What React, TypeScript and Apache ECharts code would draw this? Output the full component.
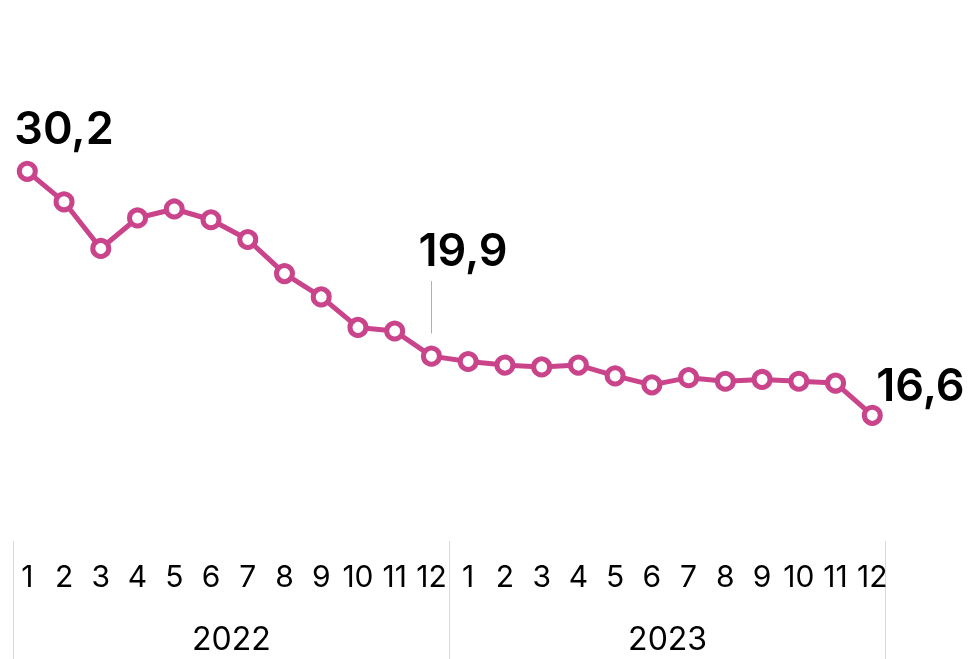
import React, { useEffect, useRef } from "react";
import * as echarts from "echarts";

const months: string[] = ["1","2","3","4","5","6","7","8","9","10","11","12","1","2","3","4","5","6","7","8","9","10","11","12"];
const years: string[] = ["2022", "2023"];
const values: number[] = [
  30.2, 28.5, 25.9, 27.6, 28.1, 27.5, 26.4, 24.5, 23.2, 21.5, 21.3, 19.9,
  19.6, 19.4, 19.3, 19.4, 18.8, 18.3, 18.7, 18.5, 18.6, 18.5, 18.4, 16.6,
];
const leaderLine: number[] = [24.08, 21.16];

const COLOR = "#c9448a";
const FONT = "Inter";

export default function App() {
  const ref = useRef<HTMLDivElement>(null);
  useEffect(() => {
    document.body.style.margin = "0";
    const chart = echarts.init(ref.current!, null, { renderer: "svg" });
    const fmt = (v: number) => v.toFixed(1).replace(".", ",");
    const big = { fontFamily: FONT, fontSize: 45, fontWeight: 600, color: "#000" } as any;
    const data = values.map((v, i) => {
      if (i === 0) {
        return { value: v, label: { show: true, ...big, formatter: fmt(v), position: "top", align: "left", offset: [-13, -6] } };
      }
      if (i === 11) {
        return { value: v, label: { show: true, ...big, formatter: fmt(v), position: "top", align: "left", offset: [-13, -69] } };
      }
      if (i === values.length - 1) {
        return { value: v, label: { show: true, ...big, formatter: fmt(v), position: "top", align: "left", offset: [4, 7] } };
      }
      return v;
    });
    chart.setOption({
      animation: false,
      grid: [
        { left: 27.3, right: 976 - 872.3, top: 139, height: 323 },
        { left: 13.3, width: 872.4, top: 541, height: 118 },
      ],
      xAxis: [
        {
          gridIndex: 0,
          type: "category",
          data: months,
          boundaryGap: false,
          axisLine: { show: false },
          axisTick: { show: false },
          axisLabel: { interval: 0, margin: 99, fontFamily: FONT, fontSize: 30, color: "#000" },
        },
        {
          gridIndex: 1,
          type: "category",
          data: years,
          boundaryGap: true,
          axisLine: { show: false },
          axisTick: { show: false },
          splitLine: { show: true, interval: 0, lineStyle: { color: "#d9d9d9", width: 1 } },
          axisLabel: { inside: true, margin: 5, fontFamily: FONT, fontSize: 32, color: "#000" },
        },
      ],
      yAxis: [
        { gridIndex: 0, type: "value", min: 14, max: 32, show: false },
        { gridIndex: 1, type: "value", min: 0, max: 1, show: false },
      ],
      series: [
        {
          type: "line",
          xAxisIndex: 0,
          yAxisIndex: 0,
          data,
          symbol: "circle",
          symbolSize: 16,
          showAllSymbol: true,
          lineStyle: { color: COLOR, width: 5 },
          itemStyle: { color: "#fff", borderColor: COLOR, borderWidth: 5 },
          emphasis: { disabled: true },
          z: 3,
          markLine: {
            silent: true,
            symbol: "none",
            label: { show: false },
            lineStyle: { color: "#b0b0b0", width: 1, type: "solid" },
            data: [[{ coord: [11, leaderLine[0]] }, { coord: [11, leaderLine[1]] }]],
          },
        },
      ],
    });
    return () => chart.dispose();
  }, []);
  return <div ref={ref} style={{ position: "fixed", left: 0, top: 0, width: 976, height: 659 }} />;
}
